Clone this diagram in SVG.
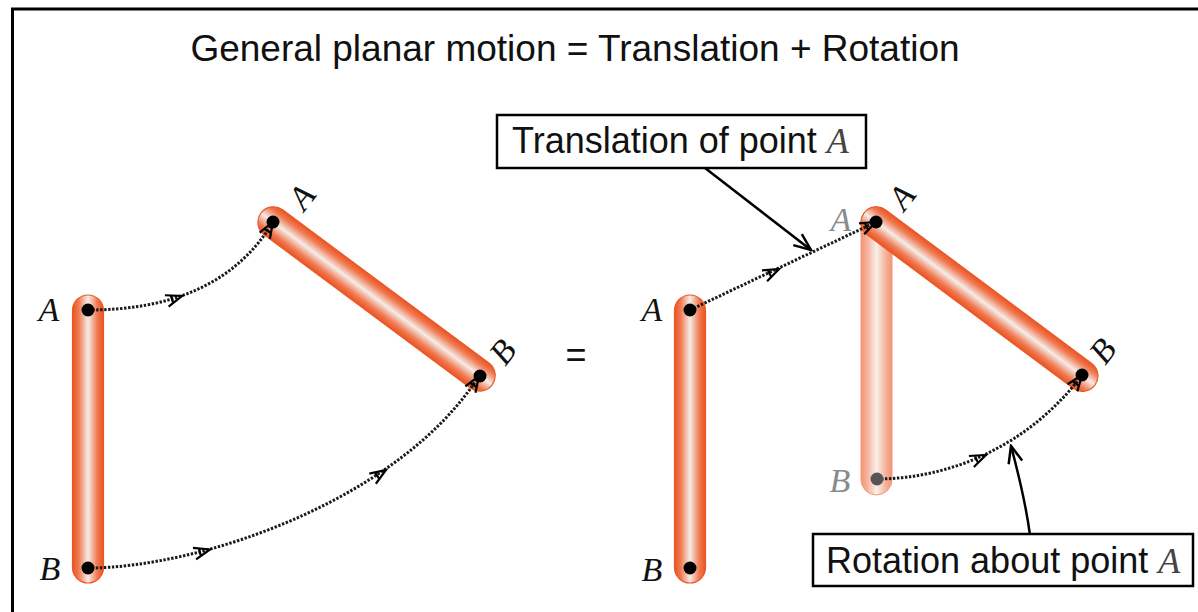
<svg xmlns="http://www.w3.org/2000/svg" width="1198" height="612" viewBox="0 0 1198 612">
<style>
.lbl{font-family:"Liberation Serif","Times New Roman",serif;font-style:italic;font-size:34px;fill:#111}
.ghost{fill:#8a8a8a}
.sans{font-family:"Liberation Sans",Arial,sans-serif;font-size:36px;fill:#111}
.dot{fill:#000}
.path{fill:none;stroke:#1a1a1a;stroke-width:3;stroke-dasharray:2.4 1.6}
.call{fill:none;stroke:#000;stroke-width:2.5}
.box{fill:#fff;stroke:#000;stroke-width:2.5}
.bar{fill:url(#barG);stroke:#ea5a28;stroke-width:1.2}
.gbar{fill:url(#ghostG);stroke:#f29a7c;stroke-width:1}
</style>
<defs>
<linearGradient id="barG" x1="0" y1="0" x2="1" y2="0">
<stop offset="0" stop-color="#ec5220"/>
<stop offset="0.2" stop-color="#f07a52"/>
<stop offset="0.5" stop-color="#f5ece9"/>
<stop offset="0.8" stop-color="#f07a52"/>
<stop offset="1" stop-color="#ec5220"/>
</linearGradient>
<linearGradient id="ghostG" x1="0" y1="0" x2="1" y2="0">
<stop offset="0" stop-color="#f39474"/>
<stop offset="0.2" stop-color="#f6b29a"/>
<stop offset="0.5" stop-color="#f8f0ec"/>
<stop offset="0.8" stop-color="#f6b29a"/>
<stop offset="1" stop-color="#f39474"/>
</linearGradient>
<marker id="arr" viewBox="-18 -8 20 16" refX="0" refY="0" markerWidth="20" markerHeight="16" markerUnits="userSpaceOnUse" orient="auto">
<path d="M-16,-6 L0,0 L-16,6 M-10.5,-4 L-10.5,4" fill="none" stroke="#000" stroke-width="2.2"/>
</marker>
<marker id="carr" viewBox="-19 -9 21 18" refX="0" refY="0" markerWidth="21" markerHeight="18" markerUnits="userSpaceOnUse" orient="auto">
<path d="M-17,-7 L0,0 L-17,7" fill="none" stroke="#000" stroke-width="2.5"/>
</marker>
<path id="ah" d="M-16,-6 L0,0 L-16,6 M-10.5,-4 L-10.5,4" fill="none" stroke="#000" stroke-width="2.2"/>
</defs>

<rect x="12.5" y="9" width="1200" height="620" fill="#fff" stroke="#000" stroke-width="3"/>

<g id="title">
<text class="sans" x="575" y="61" text-anchor="middle" style="font-size:37px">General planar motion = Translation + Rotation</text>
</g>

<g id="left-initial">
<rect class="bar" x="72.5" y="295" width="31" height="288" rx="15.5"/>
<text class="lbl" x="49" y="321" text-anchor="middle">A</text>
<text class="lbl" x="50" y="580" text-anchor="middle">B</text>
</g>

<g id="right-initial">
<rect class="bar" x="674.5" y="295" width="31" height="288" rx="15.5"/>
<text class="lbl" x="652" y="321" text-anchor="middle">A</text>
<text class="lbl" x="652" y="581" text-anchor="middle">B</text>
</g>

<g id="right-ghost">
<rect class="gbar" x="861" y="207" width="31" height="288" rx="15.5"/>
<text class="lbl ghost" x="841" y="231" text-anchor="middle">A</text>
<text class="lbl ghost" x="840" y="492" text-anchor="middle">B</text>
</g>

<g id="left-final">
<rect class="bar" x="-15.5" y="-15" width="31" height="288" rx="15.5" transform="translate(273,222) rotate(-53.4)"/>
<text class="lbl" text-anchor="middle" transform="translate(302,197) rotate(-52)" y="11">A</text>
<text class="lbl" text-anchor="middle" transform="translate(503,352) rotate(-52)" y="11">B</text>
</g>

<g id="right-final">
<rect class="bar" x="-15.5" y="-15" width="31" height="288" rx="15.5" transform="translate(876,222) rotate(-53.3)"/>
<text class="lbl" text-anchor="middle" transform="translate(902,197) rotate(-52)" y="11">A</text>
<text class="lbl" text-anchor="middle" transform="translate(1103,351) rotate(-52)" y="11">B</text>
</g>

<g id="connectors">
<path class="path" d="M88,310 C170,310 235,285 273,222" marker-end="url(#arr)"/>
<use href="#ah" transform="translate(182,296) rotate(-18)"/>
<path class="path" d="M88,568 C200,568 400,500 479,376" marker-end="url(#arr)"/>
<use href="#ah" transform="translate(210,549.5) rotate(-15)"/>
<use href="#ah" transform="translate(386,470) rotate(-33)"/>
<path class="path" d="M690,310 L876,222" marker-end="url(#arr)"/>
<use href="#ah" transform="translate(779,269) rotate(-25.3)"/>
<path class="path" d="M877,479 A257,257 0 0 0 1082,375" marker-end="url(#arr)"/>
<use href="#ah" transform="translate(986,455) rotate(-24)"/>
<path class="call" d="M705,168 L811,250" marker-end="url(#carr)"/>
<path class="call" d="M1030,535 Q1025,498 1011,446" marker-end="url(#carr)"/>
</g>

<g id="points">
<circle class="dot" cx="88" cy="310" r="6.5"/>
<circle class="dot" cx="88" cy="568" r="6.5"/>
<circle class="dot" cx="273" cy="222" r="6.5"/>
<circle class="dot" cx="480" cy="376" r="6.5"/>
<circle class="dot" cx="690" cy="310" r="6.5"/>
<circle class="dot" cx="690" cy="568" r="6.5"/>
<circle fill="#555" cx="877" cy="479" r="6.5"/>
<circle class="dot" cx="876" cy="222" r="6.5"/>
<circle class="dot" cx="1082" cy="375" r="6.5"/>
</g>

<g id="equals">
<text class="sans" x="576" y="367" text-anchor="middle">=</text>
</g>

<g id="label-translation">
<rect class="box" x="497" y="115" width="369" height="53"/>
<text class="sans" x="512" y="153">Translation of point <tspan class="lbl" style="font-size:36px;fill:#444">A</tspan></text>
</g>

<g id="label-rotation">
<rect class="box" x="813" y="534" width="380" height="52"/>
<text class="sans" x="826" y="573">Rotation about point <tspan class="lbl" style="font-size:36px;fill:#444">A</tspan></text>
</g>
</svg>
